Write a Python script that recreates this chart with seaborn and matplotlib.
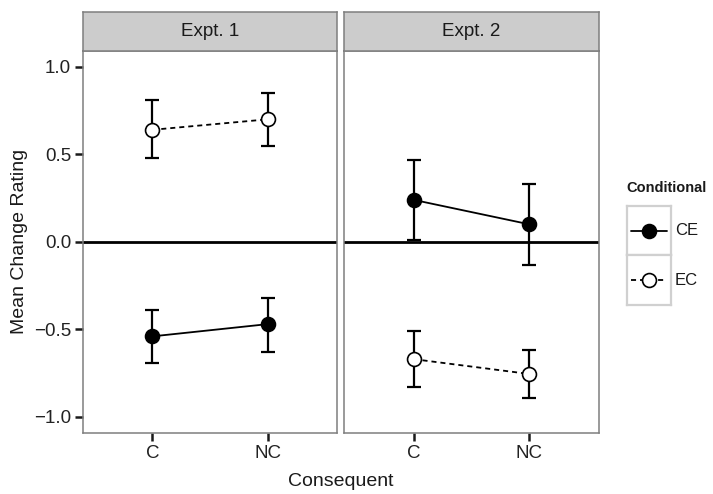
import numpy as np
import pandas as pd
import matplotlib
matplotlib.use("Agg")
import matplotlib.pyplot as plt
import seaborn as sns

# data
consequent = ["C", "NC"]
experiments = ["Expt. 1", "Expt. 2"]
conditions = ["CE", "EC"]

e1_ce_mean = [-0.54, -0.47]
e1_ce_low = [-0.69, -0.63]
e1_ce_high = [-0.39, -0.32]
e1_ec_mean = [0.64, 0.70]
e1_ec_low = [0.48, 0.55]
e1_ec_high = [0.81, 0.85]

e2_ce_mean = [0.24, 0.10]
e2_ce_low = [0.01, -0.135]
e2_ce_high = [0.47, 0.33]
e2_ec_mean = [-0.67, -0.755]
e2_ec_low = [-0.83, -0.89]
e2_ec_high = [-0.51, -0.62]

yticks = [-1.0, -0.5, 0.0, 0.5, 1.0]

rows = []
for expt, ce, ec in [
    ("Expt. 1", (e1_ce_mean, e1_ce_low, e1_ce_high), (e1_ec_mean, e1_ec_low, e1_ec_high)),
    ("Expt. 2", (e2_ce_mean, e2_ce_low, e2_ce_high), (e2_ec_mean, e2_ec_low, e2_ec_high)),
]:
    for cond, (m, lo, hi) in zip(conditions, [ce, ec]):
        for i, c in enumerate(consequent):
            rows.append({"Expt": expt, "Conditional": cond, "Consequent": c,
                         "mean": m[i], "lo": lo[i], "hi": hi[i]})
df = pd.DataFrame(rows)

sns.set_theme(style="white")
plt.rcParams["font.family"] = ["Liberation Sans", "DejaVu Sans"]

W, H = 713, 494
fig = plt.figure(figsize=(W / 100, H / 100), dpi=100)

def fx(px):
    return px / W

def fy(py):
    return 1 - py / H

panel_x = [(83, 337), (344, 599)]
top, bottom, strip_top = 50.7, 433, 12
styles = {"CE": dict(ls="-", mfc="black"), "EC": dict(ls=(0, (2.8, 2.2)), mfc="white")}
grid_col = "#7f7f7f"

for k, (expt, (x0, x1)) in enumerate(zip(experiments, panel_x)):
    ax = fig.add_axes([fx(x0), fy(bottom), fx(x1 - x0), (bottom - top) / H])
    sub = df[df["Expt"] == expt]
    ax.axhline(0, color="black", lw=2.0, zorder=1)
    for cond in conditions:
        d = sub[sub["Conditional"] == cond]
        ax.errorbar(d["Consequent"], d["mean"],
                    yerr=[d["mean"] - d["lo"], d["hi"] - d["mean"]],
                    fmt="none", ecolor="black", elinewidth=1.6, capsize=5,
                    capthick=1.6, zorder=2)
        sns.lineplot(data=d, x="Consequent", y="mean", ax=ax, color="black",
                     lw=1.3, linestyle=styles[cond]["ls"], marker="o",
                     markersize=10, markerfacecolor=styles[cond]["mfc"],
                     markeredgecolor="black", markeredgewidth=1.2, zorder=3,
                     legend=False)
    ax.set_xlim(-0.6, 1.6)
    ax.set_ylim(-1.092, 1.092)
    ax.set_yticks(yticks)
    ax.set_xlabel("")
    ax.set_ylabel("")
    for s in ax.spines.values():
        s.set_color(grid_col)
        s.set_linewidth(1.1)
    ax.tick_params(axis="both", which="both", direction="out", length=5.5,
                   width=1.8, color="#1a1a1a", labelsize=13.5,
                   labelcolor="#222222", pad=3, bottom=True, left=(k == 0))
    if k == 0:
        ax.set_yticklabels([f"{v:.1f}".replace("-", "\u2212") for v in yticks])
    else:
        ax.set_yticklabels([])

    # facet strip
    sax = fig.add_axes([fx(x0), fy(top), fx(x1 - x0), (top - strip_top) / H])
    sax.set_facecolor("#cccccc")
    sax.set_xticks([])
    sax.set_yticks([])
    for s in sax.spines.values():
        s.set_color(grid_col)
        s.set_linewidth(1.1)
    sax.text(0.5, 0.5, expt, ha="center", va="center", fontsize=13.5,
             color="#1a1a1a", transform=sax.transAxes)

fig.text(fx(20), fy((top + bottom) / 2), "Mean Change Rating", rotation=90,
         ha="center", va="center", fontsize=14, color="#1a1a1a")
fig.text(fx(341), fy(481), "Consequent", ha="center", va="center",
         fontsize=14, color="#1a1a1a")

# legend
fig.text(fx(626), fy(188), "Conditional", ha="left", va="center",
         fontsize=10.5, fontweight="bold", color="#1a1a1a")
lx0, lx1, ly0, ly1 = 627, 671, 206, 305
for j, cond in enumerate(conditions):
    ky0 = ly0 + j * (ly1 - ly0) / 2
    ky1 = ky0 + (ly1 - ly0) / 2
    kax = fig.add_axes([fx(lx0), fy(ky1), fx(lx1 - lx0), (ky1 - ky0) / H])
    kax.set_xlim(0, 1)
    kax.set_ylim(0, 1)
    kax.set_xticks([])
    kax.set_yticks([])
    for s in kax.spines.values():
        s.set_color("#d0d0d0")
        s.set_linewidth(1.6)
    kax.plot([0.1, 0.9], [0.5, 0.5], color="black", lw=1.3,
             linestyle=styles[cond]["ls"], zorder=2)
    kax.plot([0.5], [0.5], marker="o", markersize=10, color="black",
             markerfacecolor=styles[cond]["mfc"], markeredgewidth=1.2, zorder=3)
    fig.text(fx(675), fy((ky0 + ky1) / 2), cond, ha="left", va="center",
             fontsize=12, color="#1a1a1a")

fig.savefig("out.png", dpi=100)
